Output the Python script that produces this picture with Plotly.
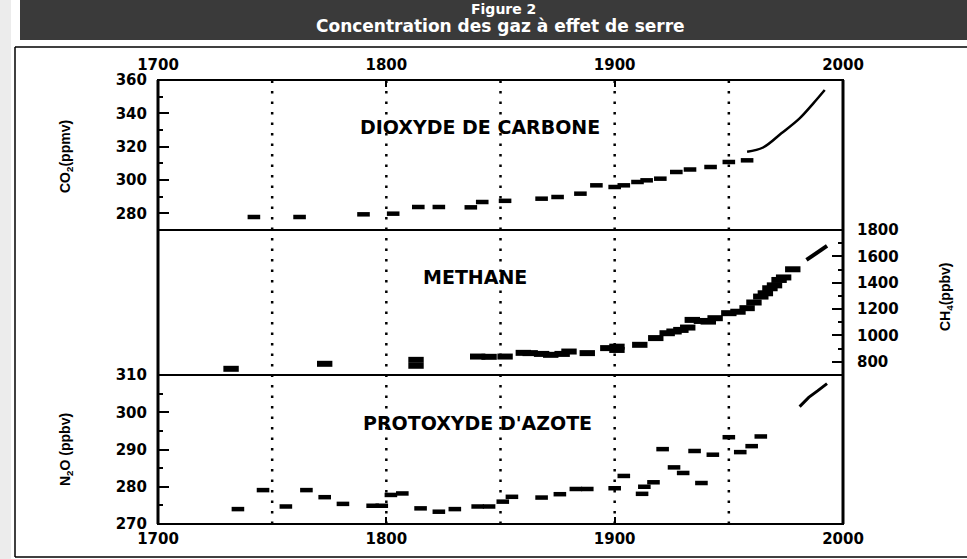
import plotly.graph_objects as go

# ---------------- data ----------------
co2_year = [1742, 1762, 1790, 1803, 1814, 1823, 1837, 1842, 1852, 1868, 1875, 1885,
            1892, 1900, 1904, 1910, 1914, 1920, 1927, 1933, 1942, 1950, 1958]
co2_ppmv = [277.8, 277.8, 279.4, 279.8, 283.8, 283.8, 283.6, 286.8, 287.5, 288.8, 289.8, 291.8,
            296.8, 295.8, 296.8, 298.8, 299.8, 300.8, 304.8, 306.3, 307.8, 310.8, 311.8]
co2_recent_year = [1958, 1965, 1973, 1981, 1987, 1992]
co2_recent_ppmv = [316.9, 319.5, 328.0, 337.0, 346.0, 354.0]

ch4_year = [1732, 1773, 1813, 1813, 1840, 1845, 1852, 1860, 1863, 1868, 1872, 1877, 1880,
            1888, 1897, 1901, 1901, 1911, 1918, 1923, 1926, 1929, 1932, 1934, 1938, 1941,
            1944, 1950, 1954, 1958, 1961, 1964, 1966, 1968, 1970, 1972, 1974, 1978]
ch4_ppbv = [747, 785, 815, 770, 840, 838, 840, 868, 866, 860, 853, 860, 878,
            866, 904, 890, 915, 929, 980, 1017, 1030, 1042, 1060, 1118, 1110, 1105,
            1131, 1169, 1180, 1207, 1250, 1295, 1320, 1358, 1380, 1421, 1440, 1502]
ch4_recent_year = [1984, 1987, 1990, 1993]
ch4_recent_ppbv = [1573, 1610, 1640, 1679]

n2o_year = [1735, 1746, 1756, 1765, 1773, 1781, 1794, 1798, 1802, 1807, 1815, 1823, 1830,
            1840, 1845, 1851, 1855, 1868, 1876, 1883, 1888, 1900, 1904, 1912, 1913, 1917,
            1921, 1926, 1930, 1935, 1938, 1943, 1950, 1955, 1960, 1964]
n2o_ppbv = [274.0, 279.1, 274.7, 279.1, 277.2, 275.4, 274.9, 274.9, 277.8, 278.2, 274.2, 273.3, 274.0,
            274.7, 274.7, 276.0, 277.3, 277.1, 278.0, 279.4, 279.4, 279.6, 282.9, 278.1, 280.0, 281.2,
            290.1, 285.2, 283.7, 289.6, 281.0, 288.6, 293.3, 289.3, 290.9, 293.5]
n2o_recent_year = [1981, 1985, 1989, 1993]
n2o_recent_ppbv = [301.5, 304.0, 305.8, 307.7]

year_ticks = [1700, 1800, 1900, 2000]
co2_ticks = [280, 300, 320, 340, 360]
ch4_ticks = [800, 1000, 1200, 1400, 1600, 1800]
n2o_ticks = [270, 280, 290, 300, 310]
dotted_years = [1750, 1800, 1850, 1900, 1950]

# ---------------- layout geometry ----------------
W, H = 967, 559
L, R, T, B = 158, 843, 80, 524


def px(x):
    return (x - L) / (R - L)


def py(y):
    return (B - y) / (B - T)


d_co2 = [py(230), 1.0]
d_ch4 = [py(375), py(230)]
d_n2o = [0.0, py(375)]

FONT = "DejaVu Sans"
tickfont = dict(family=FONT, size=15, color="black", weight="bold")

fig = go.Figure()

dash_marker = dict(symbol="line-ew", size=9, color="black", line=dict(color="black", width=4.5))
blob_marker = dict(symbol="line-ew", size=11, color="black", line=dict(color="black", width=6))

fig.add_trace(go.Scatter(x=co2_year, y=co2_ppmv, mode="markers", marker=dash_marker,
                         xaxis="x2", yaxis="y", showlegend=False))
fig.add_trace(go.Scatter(x=co2_recent_year, y=co2_recent_ppmv, mode="lines",
                         line=dict(color="black", width=2.5, shape="spline"),
                         xaxis="x2", yaxis="y", showlegend=False))
fig.add_trace(go.Scatter(x=ch4_year, y=ch4_ppbv, mode="markers", marker=blob_marker,
                         xaxis="x", yaxis="y2", showlegend=False))
fig.add_trace(go.Scatter(x=ch4_recent_year, y=ch4_recent_ppbv, mode="lines",
                         line=dict(color="black", width=4),
                         xaxis="x", yaxis="y2", showlegend=False))
fig.add_trace(go.Scatter(x=n2o_year, y=n2o_ppbv, mode="markers", marker=dash_marker,
                         xaxis="x", yaxis="y3", showlegend=False))
fig.add_trace(go.Scatter(x=n2o_recent_year, y=n2o_recent_ppbv, mode="lines",
                         line=dict(color="black", width=3),
                         xaxis="x", yaxis="y3", showlegend=False))

common_x = dict(range=[1700, 2000], tickvals=year_ticks, showgrid=False, zeroline=False,
                showline=False, ticks="inside", ticklen=7, tickwidth=2, tickcolor="black",
                tickfont=tickfont, domain=[0, 1])


def yax(domain, rng, tickvals, side, anchor, minor_dtick, minor0, standoff):
    return dict(domain=domain, range=rng, tickvals=tickvals, side=side, anchor=anchor,
                showgrid=False, zeroline=False, showline=False,
                ticks="inside", ticklen=11, tickwidth=1.5, tickcolor="black",
                minor=dict(ticks="inside", ticklen=5, tickwidth=1.5, tickcolor="black",
                           dtick=minor_dtick, tick0=minor0, showgrid=False),
                tickfont=tickfont, ticklabelstandoff=standoff)


fig.update_layout(
    width=W, height=H,
    margin=dict(l=L, r=W - R, t=T, b=H - B, pad=0),
    paper_bgcolor="white", plot_bgcolor="white",
    xaxis=dict(common_x, anchor="y3", side="bottom", ticklabelstandoff=4),
    xaxis2=dict(common_x, anchor="y", side="top", ticklabelstandoff=6),
    yaxis=yax(d_co2, [270, 360], co2_ticks, "left", "x2", 10, 270, 10),
    yaxis2=yax(d_ch4, [700, 1800], ch4_ticks, "right", "x", 100, 700, 13),
    yaxis3=yax(d_n2o, [270, 310], n2o_ticks, "left", "x", 5, 270, 10),
)

shapes = []
# page strip, header band and outer frame
shapes.append(dict(type="rect", xref="paper", yref="paper", x0=px(0), x1=px(11), y0=py(559), y1=py(0),
                   fillcolor="#ececec", line=dict(width=0), layer="below"))
shapes.append(dict(type="rect", xref="paper", yref="paper", x0=px(20), x1=px(967), y0=py(40), y1=py(0),
                   fillcolor="#3a3a3a", line=dict(width=0), layer="below"))
for (x0, y0, x1, y1) in [(15, 47, 15, 557), (15, 47, 967, 47), (15, 557, 967, 557)]:
    shapes.append(dict(type="line", xref="paper", yref="paper", x0=px(x0), x1=px(x1),
                       y0=py(y0), y1=py(y1), line=dict(color="black", width=1.5)))
# panel frames
for xr, yr in [("x2 domain", "y domain"), ("x domain", "y2 domain"), ("x domain", "y3 domain")]:
    shapes.append(dict(type="rect", xref=xr, yref=yr, x0=0, x1=1, y0=0, y1=1,
                       line=dict(color="black", width=2)))
# thick side axis lines
shapes.append(dict(type="line", xref="paper", yref="paper", x0=0, x1=0, y0=0, y1=1,
                   line=dict(color="black", width=3)))
shapes.append(dict(type="line", xref="paper", yref="paper", x0=1, x1=1, y0=0, y1=1,
                   line=dict(color="black", width=3)))
# dotted vertical lines
for yr in dotted_years:
    shapes.append(dict(type="line", xref="x", yref="paper", x0=yr, x1=yr, y0=0, y1=1,
                       line=dict(color="black", width=2.5, dash="2.5px,8px")))
fig.update_layout(shapes=shapes)

label_font = dict(family=FONT, size=19, color="black", weight="bold")
title_font = dict(family="Liberation Sans", size=14, color="black", weight="bold")
C = dict(xanchor="center", yanchor="middle", showarrow=False)
ann = [
    dict(C, x=1841, y=332, xref="x2", yref="y", text="DIOXYDE DE CARBONE", font=label_font),
    dict(C, x=1839, y=1444, xref="x", yref="y2", text="METHANE", font=label_font),
    dict(C, x=1840, y=297, xref="x", yref="y3", text="PROTOXYDE D'AZOTE", font=label_font),
    dict(C, x=px(66), y=py(157), xref="paper", yref="paper", text="CO<sub>2</sub>(ppmv)",
         textangle=-90, font=title_font),
    dict(C, x=px(66), y=py(450), xref="paper", yref="paper", text="N<sub>2</sub>O (ppbv)",
         textangle=-90, font=title_font),
    dict(C, x=px(946), y=py(297), xref="paper", yref="paper", text="CH<sub>4</sub>(ppbv)",
         textangle=-90, font=title_font),
    dict(C, x=px(503), y=py(9), xref="paper", yref="paper", text="Figure 2",
         font=dict(family=FONT, size=14, color="white", weight="bold")),
    dict(C, x=px(500), y=py(26), xref="paper", yref="paper", text="Concentration des gaz à effet de serre",
         font=dict(family=FONT, size=17, color="white", weight="bold")),
]
fig.update_layout(annotations=ann)

fig.write_html("out.html")
